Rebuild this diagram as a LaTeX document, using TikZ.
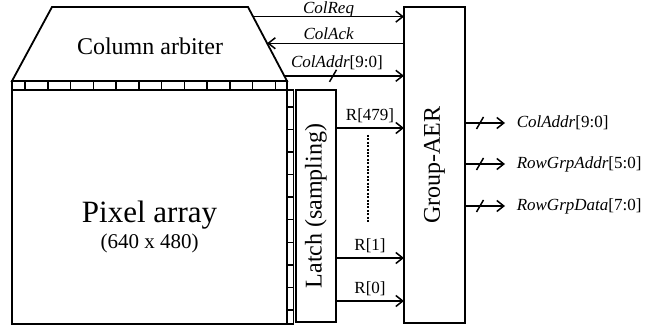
\documentclass[tikz,border=0pt]{standalone}
\usepackage{fontspec}
\setmainfont{Liberation Serif}
\usetikzlibrary{arrows.meta,positioning,calc}

\begin{document}
\begin{tikzpicture}[x=1pt,y=-1pt,
  blk/.style={draw,line width=1.8pt,inner sep=0pt,outer sep=0pt},
  ar/.style={line width=1.5pt,-{Straight Barb[length=7pt,width=11pt]}},
  lbl/.style={font=\fontsize{17}{17}\selectfont,inner sep=1pt},
  big/.style={font=\fontsize{24}{24}\selectfont},
  cell/.style={line width=1.5pt},
  bus/.style={line width=1.5pt}]
\useasboundingbox (0,0) rectangle (662,331);
% blocks
\coordinate (atl) at (52,7);
\coordinate (atr) at (248,7);
\coordinate (abr) at (287,81);
\coordinate (abl) at (12,81);
\draw[line width=1.8pt,line join=miter] (atl) -- (atr) -- (abr) -- (abl) -- cycle;
\node[big] (arb) at (150,46) {Column arbiter};
\node[blk,minimum width=275pt,minimum height=234pt] (pix) at (149.5,207) {};
\node[font=\fontsize{31}{31}\selectfont] (pixname) at (149.5,215) {Pixel array};
\node[font=\fontsize{21}{21}\selectfont] (pixsize) at (149.5,243) {(640 x 480)};
\node[blk,minimum width=40pt,minimum height=232pt] (latch) at (316,206) {};
\node[big,rotate=90] (latchtxt) at (latch.center) {Latch (sampling)};
\node[blk,minimum width=61pt,minimum height=316pt] (aer) at (434.5,165) {};
\node[big,rotate=90] (aertxt) at (aer.center) {Group-AER};
% pads
\draw[cell] (abl) rectangle (pix.north east);
\foreach \i in {0,...,11}
  \draw[cell] (25+22.75*\i,81) -- (25+22.75*\i,90);
\draw[cell] (pix.north east) rectangle (293.5,324);
\foreach \i in {0,...,9}
  \draw[cell] (287,107+22.55*\i) -- (293.5,107+22.55*\i);
% column handshake
\coordinate (req) at ($(atr)!0.13!(abr)$);
\coordinate (ack) at ($(atr)!0.49!(abr)$);
\coordinate (cad) at ($(atr)!0.93!(abr)$);
\draw[ar] (req) -- node[lbl,above=-2pt]{\textit{ColReq}} (req -| aer.west);
\draw[ar] (ack -| aer.west) -- node[lbl,above=1.5pt,pos=0.55]{\textit{ColAck}} (ack);
\draw[ar] (cad) -- node[lbl,above=4pt,pos=0.44]{\textit{ColAddr}[9:0]} (cad -| aer.west);
\draw[bus] ($(cad -| aer.west)+(-71,0)$) +(-3.5,6) -- +(3.5,-6);
% rows
\foreach \y/\t in {128/R[479],258/R[1],301/R[0]}
  \draw[ar] (latch.east |- 0,\y) -- node[lbl,above=3pt]{\t} (aer.west |- 0,\y);
\draw[line width=2.2pt,dash pattern=on 2pt off 1.4pt] (368,135) -- (368,222);
% outputs
\coordinate (oca) at (aer.east |- 0,123);
\coordinate (oga) at (aer.east |- 0,164);
\coordinate (ogd) at (aer.east |- 0,206);
\draw[ar] (oca) -- ++(40,0) node[lbl,right=10pt] (ocatxt) {\textit{ColAddr}[9:0]};
\draw[ar] (oga) -- ++(40,0) node[lbl,right=10pt] (ogatxt) {\textit{RowGrpAddr}[5:0]};
\draw[ar] (ogd) -- ++(40,0) node[lbl,right=10pt] (ogdtxt) {\textit{RowGrpData}[7:0]};
\foreach \c in {oca,oga,ogd}
  \draw[bus] ($(\c)+(15,0)$) +(-3.5,6) -- +(3.5,-6);
\end{tikzpicture}
\end{document}
